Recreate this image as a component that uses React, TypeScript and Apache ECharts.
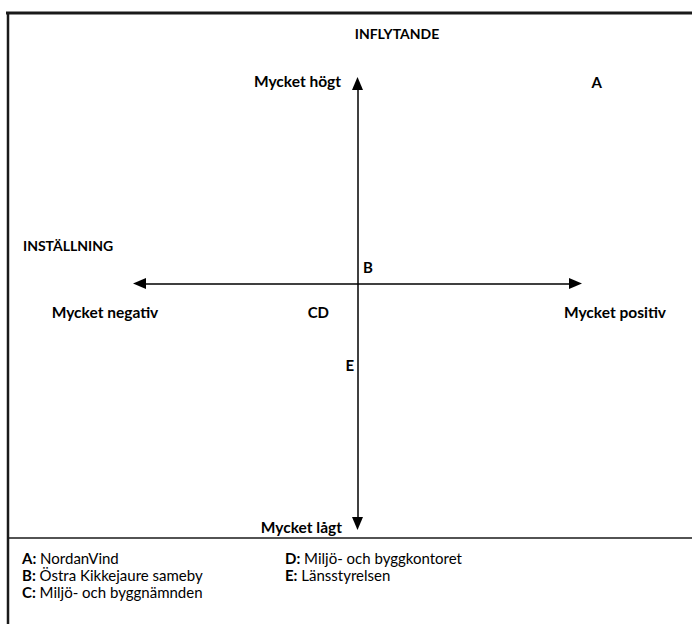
import React, { useEffect, useRef } from "react";
import * as echarts from "echarts";

// Stakeholders: letter, name, attitude (x: Inställning), influence (y: Inflytande)
const letters = ["A", "B", "C", "D", "E"];
const names = [
  "NordanVind",
  "Östra Kikkejaure sameby",
  "Miljö- och byggnämnden",
  "Miljö- och byggkontoret",
  "Länsstyrelsen",
];
const attitude = [4.39, 0.19, -0.82, -0.63, -0.14];
const influence = [5.04, 0.41, -0.71, -0.71, -2.04];

const xRange = [-4, 4];
const yRange = [-6, 5];

const xTitle = "INSTÄLLNING";
const yTitle = "INFLYTANDE";
const xEnds = ["Mycket negativ", "Mycket positiv"];
const yEnds = ["Mycket lågt", "Mycket högt"];

const FONT = "Lato, 'DejaVu Sans', sans-serif";

export default function App() {
  const ref = useRef<HTMLDivElement>(null);
  useEffect(() => {
    if (!ref.current) return;
    const chart = echarts.init(ref.current, undefined, { renderer: "svg" });
    const axisCommon = {
      type: "value" as const,
      axisLine: {
        show: true,
        onZero: true,
        symbol: ["triangle", "triangle"],
        symbolSize: [11, 13],
        lineStyle: { color: "#000", width: 1.5 },
      },
      axisTick: { show: false },
      axisLabel: { show: false },
      splitLine: { show: false },
    };
    const legendItems = letters.map((l, i) => ({
      type: "text",
      x: i < 3 ? 22 : 285,
      y: 558 + (i < 3 ? i : i - 3) * 17,
      style: {
        text: `{b|${l}:} ${names[i]}`,
        font: `15px ${FONT}`,
        fill: "#000",
        verticalAlign: "middle",
        rich: { b: { fontWeight: "bold", fontSize: 15, fontFamily: FONT, fill: "#000" } },
      },
    }));
    const lbl = (size: number) => ({ font: `bold ${size}px ${FONT}`, fill: "#000", verticalAlign: "middle" });
    chart.setOption({
      animation: false,
      backgroundColor: "#fff",
      textStyle: { fontFamily: FONT },
      grid: { left: 139.5, right: 116.5, top: 83.5, bottom: 100.5 },
      xAxis: { ...axisCommon, min: xRange[0], max: xRange[1] },
      yAxis: { ...axisCommon, min: yRange[0], max: yRange[1] },
      series: [
        {
          type: "scatter",
          clip: false,
          symbolSize: 1,
          itemStyle: { color: "#ffffff" },
          data: letters.map((l, i) => ({ name: l, value: [attitude[i], influence[i]] })),
          label: {
            show: true,
            position: "inside",
            formatter: (p: any) => p.name,
            fontWeight: "bold",
            fontSize: 15,
            fontFamily: FONT,
            color: "#000000",
            textBorderWidth: 0,
            opacity: 1,
          },
          emphasis: { disabled: true },
        },
      ],
      graphic: [
        { type: "line", shape: { x1: 6, y1: 13, x2: 692, y2: 13 }, style: { stroke: "#1a1a1a", lineWidth: 3 } },
        { type: "line", shape: { x1: 8, y1: 12, x2: 8, y2: 624 }, style: { stroke: "#1a1a1a", lineWidth: 2.5 } },
        { type: "line", shape: { x1: 8, y1: 538, x2: 692, y2: 538 }, style: { stroke: "#1a1a1a", lineWidth: 1.5 } },
        { type: "text", x: 397, y: 33, style: { ...lbl(14), text: yTitle, align: "center" } },
        { type: "text", x: 23, y: 245, style: { ...lbl(14), text: xTitle, align: "left" } },
        { type: "text", x: 341, y: 81, style: { ...lbl(15.5), text: yEnds[1], align: "right" } },
        { type: "text", x: 342, y: 527, style: { ...lbl(15.5), text: yEnds[0], align: "right" } },
        { type: "text", x: 105, y: 312, style: { ...lbl(15.5), text: xEnds[0], align: "center" } },
        { type: "text", x: 615, y: 312, style: { ...lbl(15.5), text: xEnds[1], align: "center" } },
        ...legendItems,
      ],
    });
    return () => chart.dispose();
  }, []);
  return (
    <div
      ref={ref}
      style={{ position: "fixed", left: 0, top: 0, width: 692, height: 624, background: "#fff" }}
    />
  );
}
